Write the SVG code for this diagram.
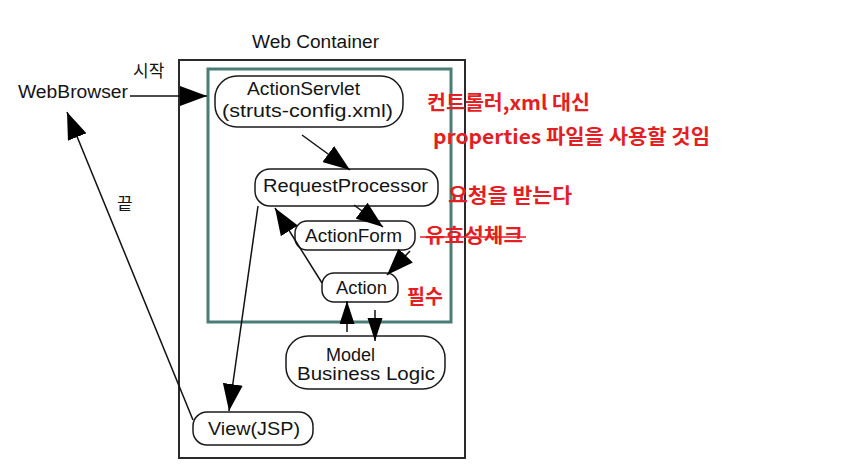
<svg xmlns="http://www.w3.org/2000/svg" width="847" height="474" viewBox="0 0 847 474">
<style>
.node{fill:none;stroke:#1a1a1a;stroke-width:1.5}
.lbl{font-family:"Liberation Sans",Arial,sans-serif;font-size:18px;fill:#141414}
.ko{font-family:"Noto Sans CJK KR",sans-serif;font-size:17px;fill:#141414}
.red{font-family:"Noto Sans CJK KR","Liberation Sans",sans-serif;font-size:20px;font-weight:bold;fill:#e31e24}
.conn{stroke:#111;stroke-width:1.5;fill:none}
</style>
<defs>
<marker id="ah" markerUnits="userSpaceOnUse" markerWidth="28" markerHeight="20" refX="27" refY="10" orient="auto">
<path d="M0,0 L27,10 L0,20 z" fill="#000"/>
</marker>
<marker id="ahs" markerUnits="userSpaceOnUse" markerWidth="24" markerHeight="16" refX="23" refY="7.5" orient="auto">
<path d="M0,0 L23,7.5 L0,15 z" fill="#000"/>
</marker>
</defs>
<rect width="847" height="474" fill="#fff"/>
<g id="web-container">
<rect x="179" y="60" width="286" height="398" fill="none" stroke="#2a2a2a" stroke-width="2"/>
<text class="lbl" x="252" y="48" textLength="127" lengthAdjust="spacingAndGlyphs">Web Container</text>
</g>
<g id="controller-area">
<rect x="208" y="69" width="243" height="253" fill="none" stroke="#4a7c78" stroke-width="3"/>
</g>
<g id="webbrowser">
<text class="lbl" x="18" y="98" textLength="110" lengthAdjust="spacingAndGlyphs">WebBrowser</text>
</g>
<g id="actionservlet">
<rect class="node" x="215" y="76" width="188" height="51" rx="22" ry="22"/>
<text class="lbl" x="247" y="95" textLength="113" lengthAdjust="spacingAndGlyphs">ActionServlet</text>
<text class="lbl" x="222" y="117" textLength="171" lengthAdjust="spacingAndGlyphs">(struts-config.xml)</text>
</g>
<g id="requestprocessor">
<rect class="node" x="255" y="169" width="183" height="37" rx="15" ry="15"/>
<text class="lbl" x="263" y="192" textLength="165" lengthAdjust="spacingAndGlyphs">RequestProcessor</text>
</g>
<g id="actionform">
<rect class="node" x="295" y="221" width="120" height="29" rx="12" ry="12"/>
<text class="lbl" x="305" y="242" textLength="97" lengthAdjust="spacingAndGlyphs">ActionForm</text>
</g>
<g id="action">
<rect class="node" x="322" y="273" width="76" height="29" rx="12" ry="12"/>
<text class="lbl" x="336" y="294" textLength="51" lengthAdjust="spacingAndGlyphs">Action</text>
</g>
<g id="model">
<rect class="node" x="286" y="336" width="159" height="53" rx="22" ry="22"/>
<text class="lbl" x="350.5" y="361" text-anchor="middle">Model</text>
<text class="lbl" x="297" y="380" textLength="138" lengthAdjust="spacingAndGlyphs">Business Logic</text>
</g>
<g id="view">
<rect class="node" x="193" y="412" width="120" height="33" rx="14" ry="14"/>
<text class="lbl" x="208" y="435" textLength="92" lengthAdjust="spacingAndGlyphs">View(JSP)</text>
</g>
<g id="connectors">
<line class="conn" x1="130" y1="96" x2="207" y2="96" marker-end="url(#ah)"/>
<line class="conn" x1="302" y1="135" x2="350" y2="170" marker-end="url(#ah)"/>
<line class="conn" x1="354" y1="205" x2="383" y2="227" marker-end="url(#ah)"/>
<line class="conn" x1="410" y1="251" x2="387" y2="275" marker-end="url(#ah)"/>
<line class="conn" x1="322" y1="283" x2="275" y2="208" marker-end="url(#ah)"/>
<line class="conn" x1="258" y1="206" x2="229" y2="411" marker-end="url(#ah)"/>
<line class="conn" x1="193" y1="420" x2="67" y2="112" marker-end="url(#ah)"/>
<line class="conn" x1="347" y1="332" x2="347" y2="301" marker-end="url(#ahs)"/>
<line class="conn" x1="375" y1="310" x2="375" y2="341" marker-end="url(#ahs)"/>
<text class="ko" x="133" y="77">시작</text>
<text class="ko" x="117" y="210">끝</text>
</g>
<g id="notes">
<text class="red" x="425" y="243" textLength="98" lengthAdjust="spacingAndGlyphs">유효성체크</text>
<line x1="420" y1="237" x2="526" y2="237" stroke="#e31e24" stroke-width="1.6"/>
<text class="red" x="427" y="110" textLength="163" lengthAdjust="spacingAndGlyphs">컨트롤러,xml 대신</text>
<text class="red" x="433" y="144" textLength="277" lengthAdjust="spacingAndGlyphs">properties 파일을 사용할 것임</text>
<text class="red" x="448" y="203" textLength="124" lengthAdjust="spacingAndGlyphs">요청을 받는다</text>
<text class="red" x="407" y="304" textLength="36" lengthAdjust="spacingAndGlyphs">필수</text>
</g>
</svg>
